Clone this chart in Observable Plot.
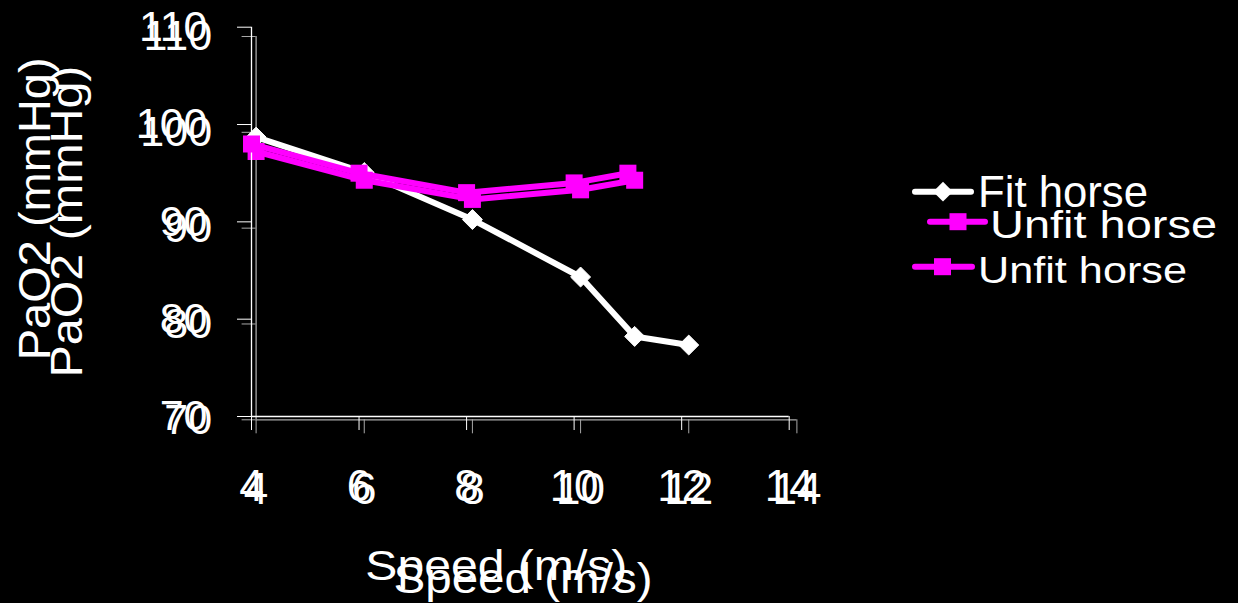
<!DOCTYPE html>
<html><head><meta charset="utf-8">
<script src="https://cdn.jsdelivr.net/npm/d3@7"></script>
<script src="https://cdn.jsdelivr.net/npm/@observablehq/plot@0.6"></script>
<style>
html,body{margin:0;padding:0;background:#000;}
#wrap{position:relative;width:1238px;height:603px;overflow:hidden;background:#000;}
#wrap svg{position:absolute;left:0;top:0;}
</style></head><body><div id="wrap"></div>
<script>
// ---- data ----
const speedFit = [4, 6, 8, 10, 11, 12];
const pao2Fit = [99.5, 95.8, 90.9, 84.9, 78.7, 77.8];
const speedUnfit = [4, 6, 8, 10, 11];
const pao2Unfit = [98.0, 95.0, 93.0, 94.0, 95.0];
const xTicks = [4, 6, 8, 10, 12, 14];
const yTicks = [70, 80, 90, 100, 110];
const seriesNames = ["Fit horse", "Unfit horse"];
const xTitle = "Speed (m/s)";
const yTitle = "PaO2 (mmHg)";

const fitData = speedFit.map((s, i) => ({speed: s, pao2: pao2Fit[i]}));
const unfitData = speedUnfit.map((s, i) => ({speed: s, pao2: pao2Unfit[i]}));

const W = 1238, H = 603;
const FONT = "'Liberation Sans', Arial, sans-serif";
const MAGENTA = "#ff00ff";

function makeLayer(cfg) {
  const marks = [
    Plot.ruleY([yTicks[0]], {stroke: cfg.axisColor, strokeWidth: 1.3}),
    Plot.ruleX([xTicks[0]], {stroke: cfg.axisColor, strokeWidth: 1.3}),
    Plot.axisX({ticks: xTicks, tickSize: 14, tickPadding: 39, stroke: cfg.axisColor, fill: "white",
      fontSize: 44, label: null, tickFormat: d => String(d)}),
    Plot.axisY({ticks: yTicks, tickSize: 14, tickPadding: 30, stroke: cfg.axisColor, fill: "white",
      fontSize: 43, label: null, tickFormat: d => String(d)}),
    Plot.text([yTitle], {text: d => d, frameAnchor: "left", rotate: -90, textAnchor: "middle", lineAnchor: "middle",
      dx: cfg.yTitleDx, dy: cfg.yTitleDy, fill: "white", fontSize: cfg.yTitleSize}),
    Plot.text([xTitle], {text: d => d, frameAnchor: "bottom", textAnchor: "middle", lineAnchor: "middle",
      dx: cfg.xTitleDx, dy: cfg.xTitleDy, fill: "white", fontSize: cfg.xTitleSize})
  ];
  if (cfg.showFit) {
    marks.push(
      Plot.line(fitData, {x: "speed", y: "pao2", stroke: "white", strokeWidth: 6}),
      Plot.dot(fitData, {x: "speed", y: "pao2", symbol: "diamond2", r: 9, fill: "white", stroke: "white", strokeWidth: 1})
    );
  }
  marks.push(
    Plot.line(unfitData, {x: "speed", y: "pao2", stroke: MAGENTA, strokeWidth: 6}),
    Plot.dot(unfitData, {x: "speed", y: "pao2", symbol: "square", r: 9.6, fill: MAGENTA, stroke: "none"})
  );
  const svg = Plot.plot({
    width: W, height: H,
    marginLeft: cfg.ml, marginRight: W - cfg.xr, marginTop: cfg.yt, marginBottom: H - cfg.yb,
    x: {domain: [4, 14], label: null},
    y: {domain: [70, 110], label: null},
    style: {background: "transparent", color: "white", fontFamily: FONT, overflow: "visible"},
    marks
  });
  const stretch = (str, len) => d3.select(svg).selectAll("text")
    .filter(function () { return this.textContent === str; })
    .attr("textLength", len).attr("lengthAdjust", "spacingAndGlyphs");
  stretch(yTitle, cfg.yTitleLen);
  stretch(xTitle, cfg.xTitleLen);
  return svg;
}

const wrap = document.getElementById("wrap");
// back layer (grey axes, both series)
wrap.appendChild(makeLayer({
  ml: 255.6, xr: 796.4, yt: 36, yb: 419.3, axisColor: "#a8a8a8", showFit: true,
  yTitleDx: -188, yTitleDy: -6.6, yTitleSize: 44, yTitleLen: 312,
  xTitleDx: -3.5, xTitleDy: 160, xTitleSize: 42, xTitleLen: 259
}));
// front layer (white axes)
wrap.appendChild(makeLayer({
  ml: 251, xr: 788.7, yt: 26.7, yb: 416, axisColor: "#ffffff", showFit: false,
  yTitleDx: -216, yTitleDy: -13, yTitleSize: 44, yTitleLen: 303,
  xTitleDx: -24, xTitleDy: 150.5, xTitleSize: 42, xTitleLen: 262
}));

// ---- legend ----
const leg = d3.select(wrap).append("svg").attr("width", W).attr("height", H)
  .style("font-family", FONT).style("pointer-events", "none");
const legendItems = [
  {name: seriesNames[0], color: "white", sym: "diamond", x1: 915, x2: 971, y: 191.7, sx: 943, tx: 978, ty: 207, fs: 44, len: 170},
  {name: seriesNames[1], color: MAGENTA, sym: "square", x1: 930, x2: 985, y: 221.7, sx: 958, tx: 990, ty: 237.5, fs: 39, len: 227},
  {name: seriesNames[1], color: MAGENTA, sym: "square", x1: 915, x2: 972, y: 266.7, sx: 942.5, tx: 978, ty: 283, fs: 37, len: 209}
];
for (const it of legendItems) {
  leg.append("line").attr("x1", it.x1).attr("x2", it.x2).attr("y1", it.y).attr("y2", it.y)
    .attr("stroke", it.color).attr("stroke-width", 6).attr("stroke-linecap", "round");
  if (it.sym === "diamond") {
    leg.append("rect").attr("x", -7).attr("y", -7).attr("width", 14).attr("height", 14)
      .attr("fill", it.color).attr("transform", `translate(${it.sx},${it.y}) rotate(45)`);
  } else {
    leg.append("rect").attr("x", it.sx - 8.5).attr("y", it.y - 8.5).attr("width", 17).attr("height", 17)
      .attr("fill", it.color);
  }
  leg.append("text").attr("x", it.tx).attr("y", it.ty).attr("fill", "white").attr("font-size", it.fs)
    .attr("textLength", it.len).attr("lengthAdjust", "spacingAndGlyphs").text(it.name);
}
</script></body></html>
